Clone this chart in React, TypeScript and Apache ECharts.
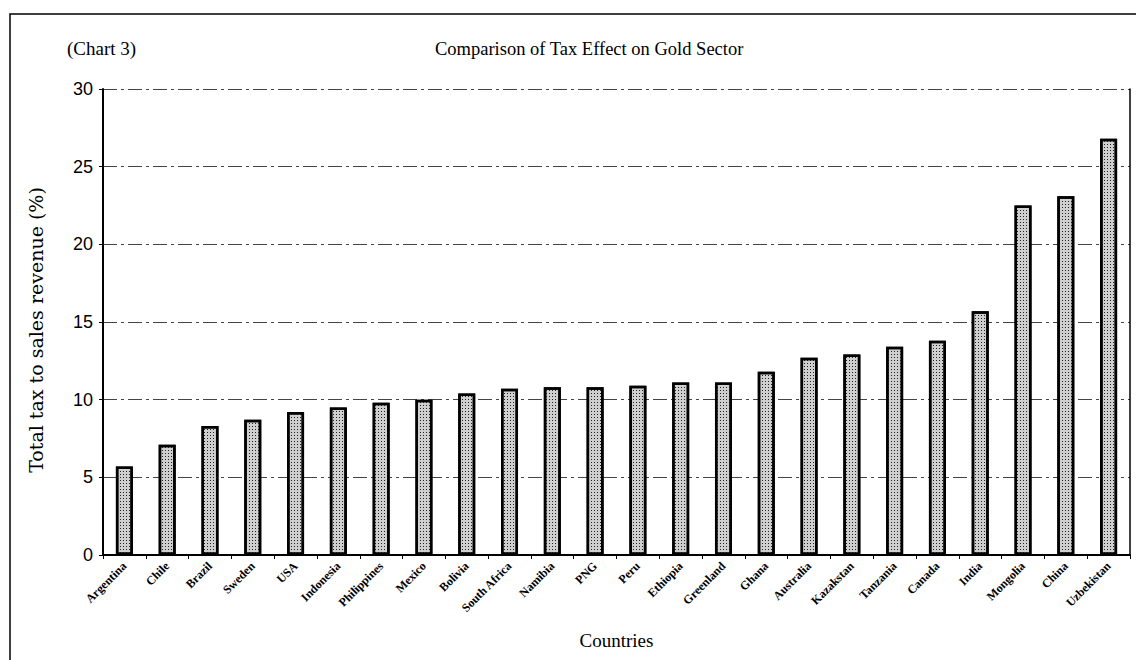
import React, { useEffect, useRef } from "react";
import * as echarts from "echarts";

const countries = [
  "Argentina", "Chile", "Brazil", "Sweden", "USA", "Indonesia", "Philippines", "Mexico",
  "Bolivia", "South Africa", "Namibia", "PNG", "Peru", "Ethiopia", "Greenland", "Ghana",
  "Australia", "Kazakstan", "Tanzania", "Canada", "India", "Mongolia", "China", "Uzbekistan",
];
const taxShare = [
  5.7, 7.1, 8.3, 8.7, 9.2, 9.5, 9.8, 10.0,
  10.4, 10.7, 10.8, 10.8, 10.9, 11.1, 11.1, 11.8,
  12.7, 12.9, 13.4, 13.8, 15.7, 22.5, 23.1, 26.8,
];
const yTicks = { min: 0, max: 30, interval: 5 };
const titleText = "Comparison of Tax Effect on Gold Sector";
const chartTag = "(Chart 3)";
const yName = "Total tax to sales revenue (%)";
const xName = "Countries";

export default function App() {
  const ref = useRef<HTMLDivElement>(null);
  useEffect(() => {
    if (!ref.current) return;
    const chart = echarts.init(ref.current, null, { renderer: "svg" });
    const serif = "'Liberation Serif', 'DejaVu Serif', serif";
    chart.setOption({
      animation: false,
      backgroundColor: "#fff",
      title: [
        {
          text: titleText,
          left: 430,
          top: 34,
          textStyle: { fontFamily: serif, fontSize: 18.5, fontWeight: "normal", color: "#000" },
        },
        {
          text: chartTag,
          left: 62,
          top: 34,
          textStyle: { fontFamily: serif, fontSize: 19, fontWeight: "normal", color: "#000" },
        },
      ],
      graphic: [
        {
          type: "rect",
          shape: { x: 10, y: 14, width: 1200, height: 700 },
          style: { fill: "none", stroke: "#000", lineWidth: 1.5 },
          silent: true,
        },
      ],
      grid: { left: 103, right: 6, top: 89, bottom: 105, containLabel: false },
      xAxis: {
        type: "category",
        data: countries,
        name: xName,
        nameLocation: "middle",
        nameGap: 76,
        nameTextStyle: { fontFamily: serif, fontSize: 19, color: "#000" },
        axisLine: { lineStyle: { color: "#000", width: 2 } },
        axisTick: { show: true, length: 4, lineStyle: { color: "#000" } },
        axisLabel: {
          rotate: 45,
          interval: 0,
          fontFamily: serif,
          fontSize: 12,
          fontWeight: "bold",
          color: "#000",
          margin: 9,
        },
      },
      yAxis: [
        {
          type: "value",
          min: yTicks.min,
          max: yTicks.max,
          interval: yTicks.interval,
          name: yName,
          nameLocation: "middle",
          nameGap: 58,
          nameTextStyle: {
            fontFamily: "'DejaVu Serif', serif",
            fontSize: 19,
            color: "#000",
            padding: [0, 16, 0, 0],
          },
          axisLine: { show: true, lineStyle: { color: "#000", width: 2 } },
          axisTick: { show: true, length: 4, lineStyle: { color: "#000" } },
          axisLabel: {
            fontFamily: "'Liberation Sans', Arial, sans-serif",
            fontSize: 18,
            color: "#000",
            margin: 10,
          },
          splitLine: {
            show: true,
            lineStyle: { color: "#444", width: 1, type: [14, 4, 3, 4] },
          },
        },
        {
          type: "value",
          position: "right",
          min: yTicks.min,
          max: yTicks.max,
          interval: yTicks.interval,
          axisLine: { show: true, lineStyle: { color: "#000", width: 1.5 } },
          axisTick: { show: false },
          axisLabel: { show: false },
          splitLine: { show: false },
        },
      ],
      series: [
        {
          type: "bar",
          data: taxShare,
          barWidth: 17,
          itemStyle: {
            color: "#cfcfcf",
            borderColor: "#000",
            borderWidth: 2.5,
            decal: {
              symbol: "rect",
              symbolSize: 1,
              dashArrayX: [1, 2],
              dashArrayY: [1, 2],
              color: "#222",
              rotation: 0,
            },
          },
        },
      ],
    });
    return () => chart.dispose();
  }, []);
  return (
    <div
      ref={ref}
      style={{ position: "absolute", left: 0, top: 0, width: 1136, height: 660 }}
    />
  );
}
